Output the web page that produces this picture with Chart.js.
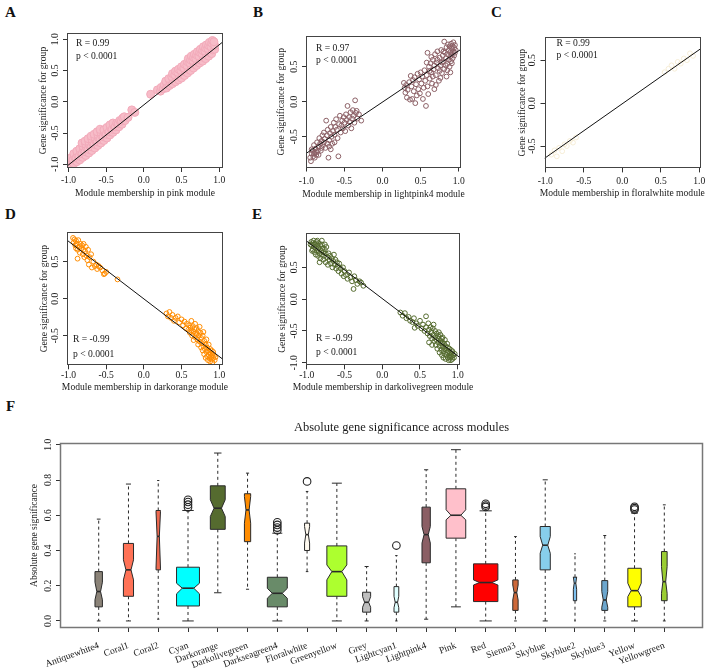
<!DOCTYPE html>
<html>
<head>
<meta charset="utf-8">
<script src="https://cdn.jsdelivr.net/npm/chart.js@4/dist/chart.umd.min.js"></script>
<style>
  html, body { margin: 0; padding: 0; background: #fff; }
  #fig { position: relative; width: 709px; height: 669px; overflow: hidden; }
  #fig canvas { position: absolute; }
  .tag { position: absolute; font: bold 15px 'Liberation Serif', 'Times New Roman', serif; line-height: 15px; color: #111; }
</style>
</head>
<body>
<div id="fig">
  <div class="tag" style="left:5px;top:5px">A</div>
  <div class="tag" style="left:253px;top:5px">B</div>
  <div class="tag" style="left:491px;top:5px">C</div>
  <div class="tag" style="left:5px;top:207px">D</div>
  <div class="tag" style="left:252px;top:207px">E</div>
  <div class="tag" style="left:6px;top:399px">F</div>
</div>
<script>
// --- Ticks comuns ---
const mmTicks = [-1.0, -0.5, 0.0, 0.5, 1.0];
const gsTicksFull = [-1.0, -0.5, 0.0, 0.5, 1.0];
const gsTicksHalf = [-0.5, 0.0, 0.5];
const gsTicksE = [-1.0, -0.5, 0.0, 0.5];

// --- Painel A: pink ---
const pinkPoints = [
  [-0.97,-1.00],[-0.96,-0.95],[-0.97,-0.90],[-0.93,-0.99],[-0.94,-0.93],[-0.92,-0.88],[-0.93,-0.83],
  [-0.89,-0.96],[-0.90,-0.90],[-0.88,-0.85],[-0.89,-0.79],[-0.85,-0.93],[-0.86,-0.87],[-0.84,-0.81],[-0.85,-0.75],
  [-0.81,-0.89],[-0.82,-0.83],[-0.80,-0.77],[-0.81,-0.71],[-0.82,-0.66],[-0.77,-0.86],[-0.78,-0.80],[-0.76,-0.74],[-0.77,-0.68],[-0.78,-0.63],
  [-0.73,-0.82],[-0.74,-0.76],[-0.72,-0.70],[-0.73,-0.64],[-0.74,-0.59],[-0.69,-0.78],[-0.70,-0.72],[-0.68,-0.66],[-0.69,-0.60],[-0.70,-0.55],
  [-0.65,-0.74],[-0.66,-0.68],[-0.64,-0.62],[-0.65,-0.57],[-0.66,-0.52],[-0.61,-0.70],[-0.62,-0.64],[-0.60,-0.58],[-0.61,-0.53],[-0.62,-0.48],
  [-0.57,-0.66],[-0.58,-0.60],[-0.56,-0.54],[-0.57,-0.49],[-0.58,-0.44],[-0.53,-0.62],[-0.54,-0.56],[-0.52,-0.50],[-0.53,-0.45],
  [-0.49,-0.58],[-0.50,-0.52],[-0.48,-0.46],[-0.49,-0.41],[-0.45,-0.53],[-0.46,-0.48],[-0.44,-0.42],[-0.45,-0.37],
  [-0.41,-0.49],[-0.42,-0.44],[-0.40,-0.38],[-0.41,-0.34],[-0.37,-0.45],[-0.38,-0.40],[-0.36,-0.34],
  [-0.33,-0.40],[-0.34,-0.35],[-0.32,-0.30],[-0.29,-0.36],[-0.30,-0.31],[-0.28,-0.26],[-0.25,-0.30],[-0.26,-0.24],[-0.21,-0.25],
  [-0.16,-0.13],[-0.12,-0.17],[0.09,0.12],
  [0.18,0.19],[0.22,0.17],[0.23,0.23],[0.26,0.21],[0.27,0.27],[0.30,0.22],[0.31,0.28],[0.29,0.33],
  [0.34,0.26],[0.35,0.32],[0.33,0.37],[0.38,0.29],[0.39,0.35],[0.37,0.40],[0.38,0.45],
  [0.42,0.32],[0.43,0.38],[0.41,0.43],[0.42,0.49],[0.46,0.35],[0.47,0.41],[0.45,0.47],[0.46,0.52],
  [0.50,0.38],[0.51,0.44],[0.49,0.50],[0.50,0.56],[0.54,0.42],[0.55,0.48],[0.53,0.54],[0.54,0.60],
  [0.58,0.46],[0.59,0.52],[0.57,0.58],[0.58,0.64],[0.59,0.69],[0.62,0.50],[0.63,0.56],[0.61,0.62],[0.62,0.67],[0.63,0.73],
  [0.66,0.54],[0.67,0.60],[0.65,0.66],[0.66,0.71],[0.67,0.76],[0.70,0.58],[0.71,0.64],[0.69,0.69],[0.70,0.75],[0.71,0.80],
  [0.74,0.62],[0.75,0.67],[0.73,0.73],[0.74,0.79],[0.75,0.84],[0.78,0.65],[0.79,0.71],[0.77,0.77],[0.78,0.82],[0.79,0.88],
  [0.82,0.69],[0.83,0.75],[0.81,0.81],[0.82,0.86],[0.83,0.91],[0.86,0.73],[0.87,0.79],[0.85,0.85],[0.86,0.90],[0.87,0.95],
  [0.90,0.77],[0.91,0.83],[0.89,0.88],[0.90,0.94],[0.91,0.98],[0.94,0.84],[0.94,0.90],[0.93,0.96]
];
const pinkFit = [[-1.02, -1.03], [1.05, 0.96]];
const pinkStats = ['R = 0.99', 'p < 0.0001'];

// --- Painel B: lightpink4 ---
const lightpink4Points = [
  [-0.95,-0.80],[-0.94,-0.85],[-0.93,-0.74],[-0.93,-0.68],[-0.92,-0.70],[-0.91,-0.78],[-0.90,-0.62],[-0.90,-0.74],
  [-0.89,-0.72],[-0.89,-0.80],[-0.88,-0.67],[-0.87,-0.76],[-0.86,-0.58],[-0.86,-0.72],[-0.85,-0.70],[-0.84,-0.64],
  [-0.84,-0.76],[-0.83,-0.52],[-0.82,-0.60],[-0.81,-0.70],[-0.80,-0.56],[-0.80,-0.66],[-0.79,-0.48],[-0.78,-0.62],
  [-0.77,-0.44],[-0.77,-0.58],[-0.76,-0.53],[-0.75,-0.66],[-0.74,-0.27],[-0.73,-0.48],[-0.72,-0.40],[-0.72,-0.60],
  [-0.71,-0.80],[-0.70,-0.55],[-0.70,-0.64],[-0.69,-0.45],[-0.68,-0.36],[-0.68,-0.68],[-0.67,-0.50],[-0.66,-0.60],
  [-0.65,-0.42],[-0.64,-0.30],[-0.63,-0.47],[-0.63,-0.58],[-0.62,-0.36],[-0.61,-0.25],[-0.60,-0.40],[-0.59,-0.52],
  [-0.58,-0.78],[-0.57,-0.32],[-0.56,-0.20],[-0.55,-0.44],[-0.54,-0.34],[-0.53,-0.27],[-0.52,-0.38],[-0.51,-0.22],
  [-0.50,-0.30],[-0.49,-0.42],[-0.48,-0.18],[-0.47,-0.26],[-0.46,-0.06],[-0.45,-0.34],[-0.44,-0.22],[-0.43,-0.29],
  [-0.42,-0.15],[-0.41,-0.38],[-0.40,-0.24],[-0.39,-0.12],[-0.38,-0.20],[-0.37,-0.30],[-0.36,0.02],[-0.35,-0.16],
  [-0.34,-0.13],[-0.33,-0.24],[-0.31,-0.18],[-0.28,-0.27],
  [0.28,0.27],[0.29,0.20],[0.30,0.13],[0.31,0.24],[0.32,0.06],[0.33,0.17],[0.35,0.28],[0.36,0.03],[0.37,0.37],
  [0.38,0.22],[0.39,0.04],[0.40,0.31],[0.41,0.15],[0.42,0.35],[0.43,-0.02],[0.44,0.25],[0.45,0.09],[0.46,0.40],
  [0.47,0.18],[0.48,0.32],[0.49,0.12],[0.50,0.42],[0.51,0.26],[0.52,0.36],[0.53,0.04],[0.54,0.20],[0.55,0.45],
  [0.56,0.30],[0.57,-0.06],[0.58,0.38],[0.58,0.56],[0.59,0.70],[0.59,0.22],[0.60,0.11],[0.61,0.50],[0.62,0.33],
  [0.62,0.44],[0.63,0.55],[0.64,0.42],[0.64,0.64],[0.65,0.26],[0.66,0.60],[0.66,0.36],[0.67,0.46],[0.68,0.18],
  [0.68,0.52],[0.69,0.68],[0.70,0.38],[0.70,0.24],[0.71,0.56],[0.72,0.72],[0.72,0.60],[0.73,0.48],[0.74,0.30],
  [0.75,0.63],[0.75,0.44],[0.76,0.52],[0.76,0.34],[0.77,0.74],[0.78,0.41],[0.78,0.56],[0.79,0.66],[0.80,0.58],
  [0.80,0.72],[0.81,0.86],[0.81,0.47],[0.82,0.70],[0.83,0.62],[0.83,0.52],[0.84,0.78],[0.84,0.36],[0.85,0.54],
  [0.85,0.45],[0.86,0.68],[0.86,0.82],[0.87,0.60],[0.87,0.74],[0.88,0.50],[0.88,0.79],[0.89,0.65],[0.89,0.71],
  [0.89,0.42],[0.90,0.83],[0.90,0.58],[0.91,0.76],[0.91,0.68],[0.91,0.55],[0.92,0.80],[0.92,0.62],[0.93,0.72],
  [0.93,0.85],[0.94,0.66],[0.94,0.77],[0.95,0.70],[0.95,0.81],[0.96,0.74]
];
const lightpink4Fit = [[-1.005, -0.74], [1.03, 0.75]];
const lightpink4Stats = ['R = 0.97', 'p < 0.0001'];

// --- Painel C: floralwhite ---
const floralwhitePoints = [
  [-0.92,-0.60],[-0.88,-0.55],[-0.85,-0.62],[-0.82,-0.52],[-0.78,-0.56],[-0.75,-0.48],[-0.72,-0.50],[-0.68,-0.44],
  [-0.64,-0.46],[-0.60,-0.40],[0.55,0.36],[0.60,0.40],[0.64,0.44],[0.68,0.40],[0.72,0.48],[0.76,0.46],
  [0.80,0.52],[0.84,0.50],[0.88,0.58],[0.92,0.55]
];
const floralwhiteFit = [[-1.01, -0.643], [1.01, 0.628]];
const floralwhiteStats = ['R = 0.99', 'p < 0.0001'];

// --- Painel D: darkorange ---
const darkorangePoints = [
  [-0.94,0.82],[-0.93,0.76],[-0.92,0.80],[-0.91,0.72],[-0.90,0.78],[-0.90,0.68],[-0.89,0.74],[-0.88,0.54],
  [-0.88,0.66],[-0.87,0.79],[-0.86,0.70],[-0.85,0.62],[-0.84,0.74],[-0.83,0.68],[-0.82,0.72],[-0.81,0.60],
  [-0.80,0.66],[-0.80,0.74],[-0.79,0.56],[-0.78,0.64],[-0.77,0.70],[-0.76,0.58],[-0.75,0.52],[-0.74,0.66],
  [-0.73,0.46],[-0.72,0.56],[-0.70,0.60],[-0.69,0.42],[-0.67,0.50],[-0.65,0.44],[-0.63,0.46],[-0.62,0.40],
  [-0.60,0.44],[-0.58,0.42],[-0.55,0.38],[-0.53,0.33],[-0.52,0.34],[-0.50,0.36],[-0.35,0.26],
  [0.30,-0.20],[0.32,-0.24],[0.34,-0.18],[0.36,-0.26],[0.38,-0.22],[0.40,-0.30],[0.42,-0.26],[0.45,-0.24],
  [0.47,-0.32],[0.50,-0.28],[0.52,-0.36],[0.54,-0.31],[0.56,-0.40],[0.57,-0.34],[0.59,-0.42],[0.60,-0.36],
  [0.61,-0.46],[0.62,-0.39],[0.63,-0.43],[0.63,-0.30],[0.64,-0.50],[0.65,-0.37],[0.66,-0.45],[0.66,-0.56],
  [0.67,-0.41],[0.68,-0.52],[0.68,-0.34],[0.69,-0.47],[0.70,-0.40],[0.70,-0.48],[0.71,-0.55],[0.72,-0.44],
  [0.72,-0.62],[0.73,-0.50],[0.74,-0.58],[0.74,-0.38],[0.75,-0.46],[0.76,-0.66],[0.76,-0.53],[0.77,-0.60],
  [0.78,-0.70],[0.78,-0.50],[0.79,-0.64],[0.79,-0.45],[0.80,-0.57],[0.80,-0.75],[0.81,-0.68],[0.82,-0.62],
  [0.82,-0.80],[0.83,-0.72],[0.83,-0.55],[0.84,-0.66],[0.84,-0.78],[0.85,-0.83],[0.85,-0.70],[0.86,-0.76],
  [0.86,-0.62],[0.87,-0.80],[0.87,-0.72],[0.88,-0.85],[0.88,-0.68],[0.89,-0.78],[0.89,-0.74],[0.90,-0.82],
  [0.90,-0.70],[0.91,-0.76],[0.91,-0.86],[0.92,-0.80],[0.92,-0.72],[0.93,-0.77],[0.94,-0.83],[0.95,-0.79]
];
const darkorangeFit = [[-1.02, 0.79], [1.05, -0.82]];
const darkorangeStats = ['R = -0.99', 'p < 0.0001'];

// --- Painel E: darkolivegreen ---
const darkolivegreenPoints = [
  [-0.95,0.86],[-0.94,0.90],[-0.93,0.84],[-0.93,0.76],[-0.92,0.88],[-0.92,0.78],[-0.91,0.92],[-0.90,0.82],
  [-0.90,0.74],[-0.89,0.87],[-0.88,0.80],[-0.88,0.70],[-0.87,0.90],[-0.86,0.84],[-0.86,0.76],[-0.86,0.92],
  [-0.85,0.68],[-0.84,0.88],[-0.84,0.80],[-0.83,0.72],[-0.83,0.58],[-0.82,0.84],[-0.82,0.64],[-0.81,0.76],
  [-0.80,0.86],[-0.80,0.70],[-0.80,0.92],[-0.79,0.80],[-0.78,0.62],[-0.78,0.74],[-0.77,0.68],[-0.76,0.78],
  [-0.76,0.86],[-0.75,0.58],[-0.75,0.72],[-0.74,0.82],[-0.73,0.66],[-0.72,0.54],[-0.71,0.72],[-0.70,0.62],
  [-0.69,0.68],[-0.68,0.56],[-0.67,0.64],[-0.66,0.50],[-0.65,0.60],[-0.64,0.70],[-0.63,0.54],[-0.62,0.62],
  [-0.61,0.48],[-0.60,0.58],[-0.59,0.52],[-0.58,0.44],[-0.57,0.56],[-0.55,0.48],[-0.54,0.40],[-0.52,0.50],
  [-0.51,0.36],[-0.50,0.44],[-0.48,0.38],[-0.46,0.32],[-0.44,0.42],[-0.42,0.34],[-0.40,0.28],[-0.38,0.16],
  [-0.37,0.36],[-0.35,0.30],[-0.33,0.24],[-0.30,0.28],[-0.28,0.26],[-0.25,0.21],
  [0.24,-0.21],[0.27,-0.26],[0.30,-0.22],[0.32,-0.30],[0.35,-0.28],[0.37,-0.34],[0.40,-0.36],[0.42,-0.30],
  [0.43,-0.45],[0.45,-0.38],[0.47,-0.42],[0.50,-0.34],[0.52,-0.46],[0.54,-0.40],[0.56,-0.50],[0.58,-0.27],
  [0.58,-0.44],[0.60,-0.54],[0.61,-0.38],[0.62,-0.48],[0.62,-0.68],[0.63,-0.58],[0.64,-0.44],[0.65,-0.52],
  [0.66,-0.62],[0.66,-0.72],[0.67,-0.46],[0.68,-0.56],[0.68,-0.40],[0.69,-0.66],[0.70,-0.50],[0.70,-0.60],
  [0.71,-0.72],[0.72,-0.54],[0.72,-0.64],[0.73,-0.78],[0.74,-0.58],[0.74,-0.68],[0.75,-0.62],[0.75,-0.52],
  [0.76,-0.74],[0.76,-0.84],[0.77,-0.56],[0.77,-0.66],[0.78,-0.70],[0.78,-0.80],[0.79,-0.62],[0.79,-0.88],
  [0.80,-0.74],[0.80,-0.68],[0.80,-0.60],[0.81,-0.82],[0.81,-0.92],[0.82,-0.70],[0.82,-0.78],[0.83,-0.86],
  [0.83,-0.64],[0.84,-0.74],[0.84,-0.94],[0.85,-0.80],[0.85,-0.88],[0.86,-0.70],[0.86,-0.84],[0.87,-0.76],
  [0.87,-0.92],[0.88,-0.82],[0.88,-0.96],[0.89,-0.78],[0.89,-0.88],[0.90,-0.84],[0.90,-0.92],[0.91,-0.80],
  [0.91,-0.96],[0.92,-0.86],[0.92,-0.90],[0.93,-0.82],[0.93,-0.94],[0.94,-0.88],[0.95,-0.92],[0.96,-0.86]
];
const darkolivegreenFit = [[-1.01, 0.92], [1.03, -0.92]];
const darkolivegreenStats = ['R = -0.99', 'p < 0.0001'];

// --- Painel F: boxplot ---
const moduleNames = ['Antiquewhite4','Coral1','Coral2','Cyan','Darkorange','Darkolivegreen','Darkseagreen4',
  'Floralwhite','Greenyellow','Grey','Lightcyan1','Lightpink4','Pink','Red','Sienna3','Skyblue','Skyblue2',
  'Skyblue3','Yellow','Yellowgreen'];
const moduleColors = ['#8B8378','#FF7256','#EE6A50','#00FFFF','#556B2F','#FF8C00','#698B69','#FFFAF0','#ADFF2F',
  '#BEBEBE','#E0FFFF','#8B5F65','#FFC0CB','#FF0000','#CD6839','#87CEEB','#7EC0EE','#6CA6CD','#FFFF00','#9ACD32'];
const whiskerLow  = [0.00,0.00,0.01,0.00,0.16,0.18,0.00,0.28,0.00,0.00,0.00,0.01,0.08,0.00,0.00,0.00,0.00,0.00,0.00,0.00];
const boxQ1       = [0.08,0.14,0.29,0.085,0.52,0.45,0.08,0.40,0.14,0.05,0.05,0.33,0.47,0.11,0.06,0.29,0.115,0.06,0.08,0.115];
const boxMedian   = [0.167,0.29,0.48,0.186,0.64,0.63,0.157,0.49,0.28,0.106,0.106,0.49,0.60,0.218,0.161,0.43,0.214,0.119,0.172,0.223];
const boxQ3       = [0.28,0.44,0.627,0.305,0.767,0.722,0.248,0.555,0.426,0.163,0.195,0.646,0.75,0.324,0.233,0.536,0.248,0.229,0.299,0.394];
const whiskerHigh = [0.578,0.777,0.797,0.627,0.953,0.839,0.498,0.735,0.782,0.309,0.371,0.858,0.972,0.625,0.479,0.801,0.381,0.485,0.612,0.659];
const notchLow    = [0.12,0.233,0.30,0.154,0.593,0.555,0.129,0.442,0.233,0.078,0.075,0.442,0.574,0.204,0.119,0.384,0.18,0.078,0.138,0.157];
const notchHigh   = [0.22,0.347,0.62,0.214,0.688,0.706,0.185,0.536,0.318,0.138,0.14,0.536,0.631,0.233,0.204,0.479,0.25,0.167,0.214,0.309];
const boxWidths   = [0.25,0.34,0.15,0.77,0.50,0.21,0.67,0.17,0.67,0.27,0.16,0.28,0.66,0.82,0.18,0.34,0.11,0.20,0.45,0.19];
const outlierPoints = [[4,0.688],[4,0.675],[4,0.66],[4,0.645],[7,0.56],[7,0.545],[7,0.53],[7,0.515],
  [8,0.792],[11,0.428],[14,0.665],[14,0.655],[14,0.647],[19,0.648],[19,0.64],[19,0.632]];
const absTicks = [0.0, 0.2, 0.4, 0.6, 0.8, 1.0];

// --- Configuração visual ---
const fig = document.getElementById('fig');
const serif = "'Liberation Serif', 'Times New Roman', serif";
const ink = '#1a1a1a';
const txt = 9.6;
Chart.defaults.font.family = serif;
Chart.defaults.color = ink;

function addCanvas(left, top, width, height) {
  const c = document.createElement('canvas');
  c.width = Math.round(width); c.height = Math.round(height);
  c.style.left = left + 'px'; c.style.top = top + 'px';
  c.style.width = Math.round(width) + 'px'; c.style.height = Math.round(height) + 'px';
  fig.appendChild(c);
  return c;
}

// moldura estilo R em volta da área do gráfico
function framePlugin(color, width) {
  return { id: 'frame', afterDraw(chart) {
    const a = chart.chartArea, ctx = chart.ctx;
    ctx.save();
    ctx.strokeStyle = color; ctx.lineWidth = width;
    ctx.strokeRect(Math.round(a.left) + 0.5, Math.round(a.top) + 0.5,
      Math.round(a.right - a.left) - 1, Math.round(a.bottom - a.top) - 1);
    ctx.restore();
  }};
}

// rótulos do eixo y girados (como no R, las = 0)
function rotatedYTicks(gap, size) {
  return { id: 'rotY', afterDraw(chart) {
    const ys = chart.scales.y, ctx = chart.ctx;
    ctx.save();
    ctx.font = size + 'px ' + serif;
    ctx.fillStyle = ink; ctx.textAlign = 'center'; ctx.textBaseline = 'middle';
    ys.ticks.forEach(t => {
      ctx.save();
      ctx.translate(chart.chartArea.left - gap, ys.getPixelForValue(t.value));
      ctx.rotate(-Math.PI / 2);
      ctx.fillText(t.value.toFixed(1), 0, 0);
      ctx.restore();
    });
    ctx.restore();
  }};
}

// título do eixo x sem compressão (pode passar da largura do painel, como no R)
function xTitlePlugin(text, offset) {
  return { id: 'xTitle', afterDraw(chart) {
    const a = chart.chartArea, ctx = chart.ctx;
    ctx.save();
    ctx.font = txt + 'px ' + serif; ctx.fillStyle = ink;
    ctx.textAlign = 'center'; ctx.textBaseline = 'middle';
    ctx.fillText(text, (a.left + a.right) / 2, a.bottom + offset);
    ctx.restore();
  }};
}

function statsPlugin(lines, s) {
  return { id: 'stats', afterDatasetsDraw(chart) {
    const a = chart.chartArea, ctx = chart.ctx;
    ctx.save();
    ctx.font = txt + 'px ' + serif; ctx.fillStyle = ink;
    ctx.textAlign = 'left'; ctx.textBaseline = 'middle';
    lines.forEach((t, i) => {
      const y = s.fromBottom ? a.bottom - s.rows[i] : a.top + s.rows[i];
      ctx.fillText(t, a.left + s.dx, y);
    });
    ctx.restore();
  }};
}

function fixSize(prop, v) {
  return s => { s[prop] = v; s.paddingLeft = 0; s.paddingRight = 0; s.paddingTop = 0; s.paddingBottom = 0; };
}

// --- Painéis de dispersão ---
const scatterPanels = [
  { area: [67, 33, 222.5, 168], xr: [-1.02, 1.05], yr: [-1.06, 1.10], yt: gsTicksFull, points: pinkPoints, fit: pinkFit,
    color: '#F2AABA', fill: '#F7BCC8', radius: 4, xTitle: 'Module membership in pink module',
    stats: pinkStats, statsPos: { dx: 9, rows: [10, 23.5], fromBottom: false }, gap: 3, xT: 25, titleOff: 23 },
  { area: [306, 36, 461, 167], xr: [-1.005, 1.03], yr: [-0.94, 0.94], yt: gsTicksHalf, points: lightpink4Points, fit: lightpink4Fit,
    color: '#8B5F65', fill: 'rgba(0,0,0,0)', radius: 2.4, xTitle: 'Module membership in lightpink4 module',
    stats: lightpink4Stats, statsPos: { dx: 10, rows: [12, 24], fromBottom: false }, gap: 4, xT: 26.5, titleOff: 24 },
  { area: [544, 37, 699, 168], xr: [-1.01, 1.01], yr: [-0.76, 0.77], yt: gsTicksHalf, points: floralwhitePoints, fit: floralwhiteFit,
    color: '#F6EDD6', fill: 'rgba(0,0,0,0)', radius: 2.4, xTitle: 'Module membership in floralwhite module',
    stats: floralwhiteStats, statsPos: { dx: 12, rows: [6, 18], fromBottom: false }, gap: 3, xT: 24.6, titleOff: 21.5 },
  { area: [67, 232, 222.5, 365], xr: [-1.02, 1.05], yr: [-0.90, 0.90], yt: gsTicksHalf, points: darkorangePoints, fit: darkorangeFit,
    color: '#FF8C00', fill: 'rgba(0,0,0,0)', radius: 2.4, xTitle: 'Module membership in darkorange module',
    stats: darkorangeStats, statsPos: { dx: 6, rows: [26, 11], fromBottom: true }, gap: 0, xT: 21.7, titleOff: 22 },
  { area: [306, 233, 460, 365], xr: [-1.01, 1.03], yr: [-1.04, 1.04], yt: gsTicksE, points: darkolivegreenPoints, fit: darkolivegreenFit,
    color: '#556B2F', fill: 'rgba(0,0,0,0)', radius: 2.4, xTitle: 'Module membership in darkolivegreen module',
    stats: darkolivegreenStats, statsPos: { dx: 10, rows: [27, 13], fromBottom: true }, gap: 0, xT: 21.7, titleOff: 23 }
];

scatterPanels.forEach(p => {
  const yW = p.titleOff + 6, padTop = 6, padRight = 6, xH = p.xT + 8;
  const left = p.area[0] - yW, top = p.area[1] - padTop;
  const width = p.area[2] + padRight + 14 - left, height = p.area[3] + xH - top;
  const canvas = addCanvas(left, top, width, height);
  const font = { family: serif, size: txt };
  new Chart(canvas, {
    type: 'scatter',
    data: { datasets: [
      { data: p.fit.map(([x, y]) => ({ x, y })), showLine: true, borderColor: '#111', borderWidth: 1, pointRadius: 0 },
      { data: p.points.map(([x, y]) => ({ x, y })), pointRadius: p.radius, pointHoverRadius: p.radius,
        borderColor: p.color, backgroundColor: p.fill, borderWidth: 1 }
    ]},
    options: {
      responsive: false, animation: false, devicePixelRatio: 1,
      layout: { padding: { top: padTop, right: padRight + 14, left: 0, bottom: 0 } },
      plugins: { legend: { display: false }, tooltip: { enabled: false } },
      scales: {
        x: {
          type: 'linear', min: p.xr[0], max: p.xr[1],
          afterBuildTicks: s => { s.ticks = mmTicks.map(v => ({ value: v })); },
          afterFit: fixSize('height', xH),
          border: { display: false },
          grid: { drawOnChartArea: false, drawTicks: true, tickLength: 4, color: '#333' },
          ticks: { font, color: ink, padding: p.gap, maxRotation: 0, autoSkip: false, callback: v => v.toFixed(1) }
        },
        y: {
          type: 'linear', min: p.yr[0], max: p.yr[1],
          afterBuildTicks: s => { s.ticks = p.yt.map(v => ({ value: v })); },
          afterFit: fixSize('width', yW),
          border: { display: false },
          grid: { drawOnChartArea: false, drawTicks: true, tickLength: 4, color: '#333' },
          ticks: { display: false },
          title: { display: true, text: 'Gene significance for group', font, color: ink, padding: 0 }
        }
      }
    },
    plugins: [framePlugin('#444', 1), rotatedYTicks(12, txt), statsPlugin(p.stats, p.statsPos), xTitlePlugin(p.xTitle, p.xT)]
  });
});

// --- Painel F: caixas entalhadas desenhadas pelas escalas ---
const notchedBoxes = { id: 'notchedBoxes', beforeDatasetsDraw(chart) {
  const { ctx, scales: { x, y } } = chart;
  const seg = (x1, y1, x2, y2) => { ctx.beginPath(); ctx.moveTo(x1, y1); ctx.lineTo(x2, y2); ctx.stroke(); };
  ctx.save();
  ctx.strokeStyle = '#2a2a2a'; ctx.lineWidth = 1;
  moduleNames.forEach((name, i) => {
    const cx = x.getPixelForValue(i + 1);
    const half = x.getPixelForValue(i + 1 + boxWidths[i] / 2) - cx;
    const yLo = y.getPixelForValue(whiskerLow[i]), yHi = y.getPixelForValue(whiskerHigh[i]);
    const yQ1 = y.getPixelForValue(boxQ1[i]), yQ3 = y.getPixelForValue(boxQ3[i]);
    const yMed = y.getPixelForValue(boxMedian[i]);
    const yN1 = y.getPixelForValue(notchLow[i]), yN2 = y.getPixelForValue(notchHigh[i]);
    // bigodes tracejados + hastes
    ctx.setLineDash([3, 3]);
    seg(cx, yQ3, cx, yHi); seg(cx, yQ1, cx, yLo);
    ctx.setLineDash([]);
    seg(cx - half / 2, yHi, cx + half / 2, yHi);
    seg(cx - half / 2, yLo, cx + half / 2, yLo);
    // caixa com entalhe
    ctx.beginPath();
    ctx.moveTo(cx - half, yQ1); ctx.lineTo(cx - half, yN1); ctx.lineTo(cx - half / 2, yMed);
    ctx.lineTo(cx - half, yN2); ctx.lineTo(cx - half, yQ3); ctx.lineTo(cx + half, yQ3);
    ctx.lineTo(cx + half, yN2); ctx.lineTo(cx + half / 2, yMed); ctx.lineTo(cx + half, yN1);
    ctx.lineTo(cx + half, yQ1); ctx.closePath();
    ctx.fillStyle = moduleColors[i]; ctx.fill(); ctx.stroke();
    // mediana
    ctx.lineWidth = 1.6;
    seg(cx - half / 2, yMed, cx + half / 2, yMed);
    ctx.lineWidth = 1;
  });
  ctx.restore();
}};

const boxTitle = { id: 'boxTitle', afterDraw(chart) {
  const a = chart.chartArea, ctx = chart.ctx;
  ctx.save();
  ctx.font = '12.5px ' + serif; ctx.fillStyle = ink;
  ctx.textAlign = 'center'; ctx.textBaseline = 'middle';
  ctx.fillText('Absolute gene significance across modules', (a.left + a.right) / 2 + 20, a.top - 15);
  ctx.restore();
}};

(function () {
  const area = [60, 443, 703, 628];
  const yW = 31, padTop = 31, padRight = 6;
  const left = area[0] - yW, top = area[1] - padTop;
  const canvas = addCanvas(left, top, area[2] + padRight - left, 669 - top);
  const font = { family: serif, size: 9.5 };
  new Chart(canvas, {
    type: 'scatter',
    data: { datasets: [
      { data: outlierPoints.map(([x, y]) => ({ x, y })), pointRadius: 3.8, pointHoverRadius: 3.8,
        borderColor: '#222', backgroundColor: 'rgba(255,255,255,0)', borderWidth: 1.1 }
    ]},
    options: {
      responsive: false, animation: false, devicePixelRatio: 1,
      layout: { padding: { top: padTop, right: padRight, left: 0, bottom: 0 } },
      plugins: { legend: { display: false }, tooltip: { enabled: false } },
      scales: {
        x: {
          type: 'linear', min: -0.3, max: 21.3,
          afterBuildTicks: s => { s.ticks = moduleNames.map((n, i) => ({ value: i + 1 })); },
          afterFit: fixSize('height', 669 - area[3]),
          border: { display: false },
          grid: { drawOnChartArea: false, drawTicks: true, tickLength: 4, color: '#333' },
          ticks: { font, color: ink, padding: 8, minRotation: 20, maxRotation: 20,
            autoSkip: false, callback: v => moduleNames[Math.round(v) - 1] }
        },
        y: {
          type: 'linear', min: -0.04, max: 1.01,
          afterBuildTicks: s => { s.ticks = absTicks.map(v => ({ value: v })); },
          afterFit: fixSize('width', yW),
          border: { display: false },
          grid: { drawOnChartArea: false, drawTicks: true, tickLength: 4, color: '#333' },
          ticks: { display: false },
          title: { display: true, text: 'Absolute gene significance', font, color: ink, padding: 0 }
        }
      }
    },
    plugins: [notchedBoxes, framePlugin('#777', 1.5), rotatedYTicks(12, 9.5), boxTitle]
  });
})();
</script>
</body>
</html>
